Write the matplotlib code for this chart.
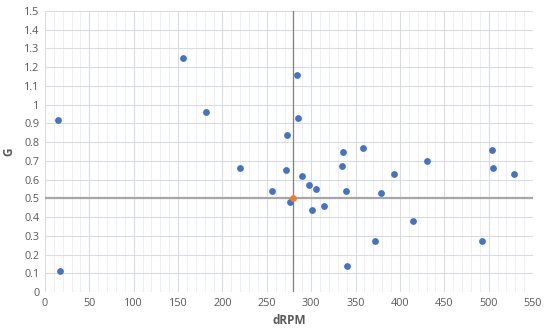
import matplotlib
matplotlib.use("Agg")
import matplotlib.pyplot as plt
from matplotlib.ticker import MultipleLocator, FuncFormatter

# measured points (dRPM, G)
drpm = [15, 17, 155, 181, 220, 256, 272, 273, 276, 284, 285, 290, 297, 301,
        305, 315, 335, 336, 339, 340, 358, 372, 379, 393, 415, 430, 493, 504,
        505, 529]
g = [0.92, 0.11, 1.25, 0.96, 0.66, 0.54, 0.65, 0.84, 0.48, 1.16, 0.93, 0.62,
     0.57, 0.44, 0.55, 0.46, 0.67, 0.75, 0.54, 0.14, 0.77, 0.27, 0.53, 0.63,
     0.38, 0.70, 0.27, 0.76, 0.66, 0.63]

# reference point / crosshair
ref_x = [280]
ref_y = [0.5]

plt.rcParams["font.family"] = ["Open Sans", "DejaVu Sans"]

fig = plt.figure(figsize=(5.5, 3.3), dpi=100)
ax = fig.add_axes([45 / 550, 1 - 292 / 330, 488 / 550, 281 / 330])

ax.set_xlim(0, 550)
ax.set_ylim(0, 1.5)
ax.xaxis.set_major_locator(MultipleLocator(50))
ax.xaxis.set_minor_locator(MultipleLocator(10))
ax.yaxis.set_major_locator(MultipleLocator(0.1))
ax.yaxis.set_major_formatter(FuncFormatter(lambda v, p: f"{round(v, 2):g}"))

ax.grid(which="major", color="#d9dbe0", lw=0.8)
ax.grid(which="minor", axis="x", color="#eeeff2", lw=0.7)
ax.set_axisbelow(True)
for s in ax.spines.values():
    s.set_visible(False)
ax.tick_params(which="both", length=0, labelsize=7.8, labelcolor="#595959", pad=4)

ax.axvline(ref_x[0], color="#7f7f7f", lw=0.9, zorder=2)
ax.axhline(ref_y[0], color="#a6a6a6", lw=1.6, zorder=2)

ax.scatter(drpm, g, s=24, color="#4472c4", linewidths=0, zorder=3)
ax.scatter(ref_x, ref_y, s=24, color="#ed7d31", linewidths=0, zorder=4)

ax.set_xlabel("dRPM", fontsize=8.5, fontweight="bold", color="#595959", labelpad=4)
ax.set_ylabel("G", fontsize=8.5, fontweight="bold", color="#595959", labelpad=6)

fig.savefig("out.png", dpi=100)
